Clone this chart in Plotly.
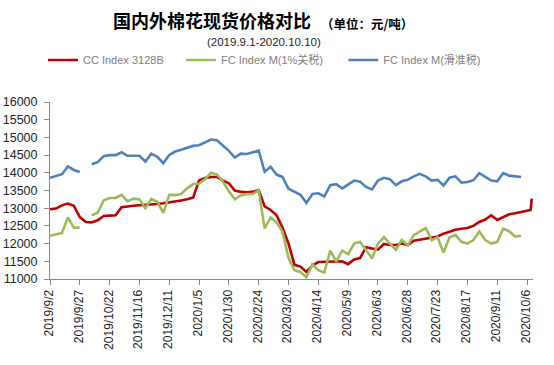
import pandas as pd
import plotly.graph_objects as go

# shared dates: every 5 days from 2019-09-02 to 2020-10-06, plus final days
dates = list(pd.date_range("2019-09-02", periods=81, freq="5D").strftime("%Y-%m-%d")) + ["2020-10-09", "2020-10-10"]

cc_index = [
    12970, 12990, 13080, 13130, 13070, 12750, 12610, 12600, 12660, 12780,
    12790, 12800, 13030, 13060, 13070, 13085, 13090, 13110, 13120, 13140,
    13160, 13190, 13220, 13250, 13300, 13780, 13850, 13880, 13880, 13780,
    13700, 13500, 13460, 13450, 13460, 13510, 13050, 12950, 12800, 12450,
    12000, 11400, 11350, 11200, 11380, 11480, 11490, 11490, 11490, 11500,
    11420, 11550, 11590, 11900, 11860, 11830, 11990, 11960, 11960, 12000,
    11960, 12080, 12110, 12140, 12170, 12200, 12280, 12340, 12390, 12420,
    12440, 12500, 12610, 12680, 12800, 12670, 12740, 12830, 12860, 12900,
    12930, 12950, 13270,
]

fc_1pct = [
    12220, 12260, 12300, 12740, 12450, 12450, None, 12800, 12870, 13220,
    13290, 13290, 13380, 13200, 13270, 13250, 13000, 13260, 13180, 12870,
    13380, 13370, 13400, 13560, 13680, 13690, 13820, 14000, 13950, 13750,
    13480, 13250, 13360, 13400, 13400, 13500, 12430, 12740, 12600, 12330,
    11600, 11250, 11200, 11050, 11420, 11250, 11180, 11800, 11500, 11800,
    11700, 12000, 12050, 11820, 11580, 12000, 12180, 12000, 11820, 12100,
    11950, 12240, 12330, 12440, 12100, 12180, 11750, 12180, 12240, 12050,
    12000, 12100, 12340, 12100, 12000, 12050, 12420, 12350, 12200, 12220,
    None, None, None,
]

fc_sliding = [
    13860, 13900, 13960, 14180, 14080, 14020, None, 14240, 14300, 14470,
    14500, 14500, 14580, 14480, 14480, 14480, 14320, 14540, 14450, 14270,
    14500, 14600, 14650, 14700, 14760, 14780, 14870, 14940, 14920, 14780,
    14620, 14430, 14540, 14530, 14580, 14630, 14030, 14170, 13950, 13880,
    13550, 13460, 13380, 13150, 13400, 13420, 13330, 13650, 13680, 13560,
    13680, 13780, 13750, 13600, 13530, 13780, 13860, 13820, 13650, 13760,
    13800, 13900, 13970, 13900, 13780, 13800, 13640, 13860, 13900, 13720,
    13740, 13790, 13990, 13880, 13780, 13760, 13990, 13920, 13900, 13880,
    None, None, None,
]

tick_dates = ["2019-09-02", "2019-09-27", "2019-10-22", "2019-11-16", "2019-12-11",
              "2020-01-05", "2020-01-30", "2020-02-24", "2020-03-20", "2020-04-14",
              "2020-05-09", "2020-06-03", "2020-06-28", "2020-07-23", "2020-08-17",
              "2020-09-11", "2020-10-06"]
tick_labels = ["2019/9/2", "2019/9/27", "2019/10/22", "2019/11/16", "2019/12/11",
               "2020/1/5", "2020/1/30", "2020/2/24", "2020/3/20", "2020/4/14",
               "2020/5/9", "2020/6/3", "2020/6/28", "2020/7/23", "2020/8/17",
               "2020/9/11", "2020/10/6"]
y_ticks = [11000, 11500, 12000, 12500, 13000, 13500, 14000, 14500, 15000, 15500, 16000]
y_labels = [str(v) for v in y_ticks]

FONT = "Liberation Sans, Arial, sans-serif"
CJK = "Noto Sans CJK SC, sans-serif"
NB = "\u00a0"

W, H = 554, 365
PL, PT, PR, PB = 50, 102, 533, 279  # plot area in window pixels

fig = go.Figure()
fig.add_trace(go.Scatter(x=dates, y=cc_index, mode="lines", name="CC Index 3128B" + NB * 4,
                         line=dict(color="#C00000", width=2.6), connectgaps=False))
fig.add_trace(go.Scatter(x=dates, y=fc_1pct, mode="lines", name="FC Index M(1%关税)" + NB * 5,
                         line=dict(color="#9BBB59", width=2.6), connectgaps=False))
fig.add_trace(go.Scatter(x=dates, y=fc_sliding, mode="lines", name="FC Index M(滑准税)",
                         line=dict(color="#4F81BD", width=2.6), connectgaps=False))

pw, ph = PR - PL, PB - PT


def px(x):
    return (x - PL) / pw


def py(y):
    return (PB - y) / ph


fig.update_layout(
    width=W, height=H,
    margin=dict(l=PL, r=W - PR, t=PT, b=H - PB, autoexpand=False),
    paper_bgcolor="white", plot_bgcolor="white",
    font=dict(family=FONT, size=12, color="#262626"),
    showlegend=True,
    legend=dict(orientation="h", xref="container", x=(50 - 7) / W, xanchor="left",
                yref="container", y=1 - 60 / H, yanchor="middle",
                font=dict(family=FONT + ", " + CJK, size=11, color="#7F7F7F"),
                itemwidth=30, bgcolor="rgba(0,0,0,0)", tracegroupgap=0),
    annotations=[
        dict(text="<b>国内外棉花现货价格对比</b>", xref="paper", yref="paper",
             x=px(212), y=py(20), xanchor="center", yanchor="middle",
             showarrow=False, font=dict(family=CJK, size=18, color="#000000")),
        dict(text="<b>（单位：元/吨）</b>", xref="paper", yref="paper",
             x=px(367), y=py(23), xanchor="center", yanchor="middle",
             showarrow=False, font=dict(family=CJK, size=12.5, color="#000000")),
        dict(text="(2019.9.1-2020.10.10)", xref="paper", yref="paper",
             x=px(264), y=py(42), xanchor="center", yanchor="middle",
             showarrow=False, font=dict(family=FONT, size=11.5, color="#262626")),
    ],
)

fig.update_xaxes(type="date", range=["2019-09-02", "2020-10-11"],
                 tickmode="array", tickvals=tick_dates, ticktext=tick_labels,
                 tickangle=-90, showgrid=False, zeroline=False, automargin=False,
                 showline=True, linecolor="#898989", linewidth=1,
                 ticks="outside", ticklen=5, tickcolor="#898989",
                 ticklabelshift=-1,
                 tickfont=dict(family=FONT, size=12, color="#262626"))
fig.update_yaxes(range=[11000, 16000], tickmode="array", tickvals=y_ticks, ticktext=y_labels,
                 showgrid=False, zeroline=False, automargin=False,
                 showline=True, linecolor="#898989", linewidth=1,
                 ticks="outside", ticklen=5, tickcolor="#898989",
                 ticklabelstandoff=4,
                 tickfont=dict(family=FONT, size=12.5, color="#262626"))

# remove the default 8px page margin so the figure fills the window exactly
fig.write_html("out.html", config={"displayModeBar": False},
               post_script="document.body.style.margin='0';document.body.style.overflow='hidden';")
